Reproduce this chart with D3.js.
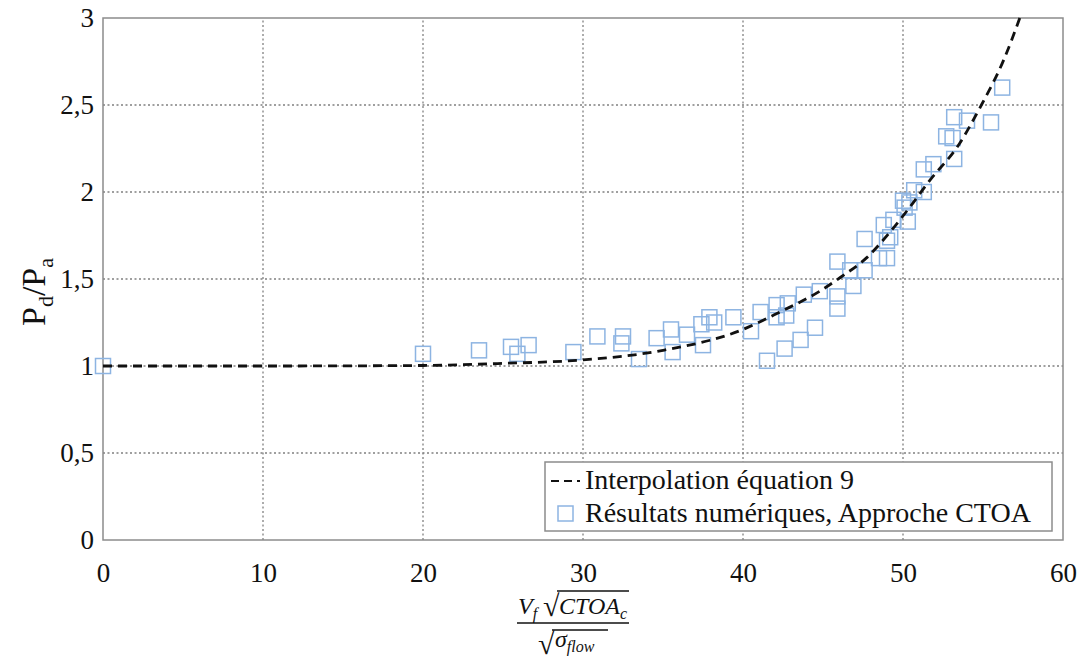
<!DOCTYPE html>
<html><head><meta charset="utf-8">
<script src="https://cdn.jsdelivr.net/npm/d3@7"></script>
<style>body{margin:0;background:#fff}svg{display:block}</style>
</head><body>
<svg id="c" width="1082" height="664"></svg>
<script>
const xTicks = [0,10,20,30,40,50,60];
const yTicks = [0,0.5,1,1.5,2,2.5,3];
const yTickLabels = ["0","0,5","1","1,5","2","2,5","3"];
const xTickLabels = ["0","10","20","30","40","50","60"];

// Résultats numériques, Approche CTOA
const pointsX = [0,20.0,23.5,25.5,25.9,26.6,29.4,30.9,32.5,32.4,33.5,34.6,35.5,35.6,36.5,37.4,37.5,37.9,38.2,39.4,40.5,41.1,41.5,42.1,42.1,42.7,42.8,42.6,43.6,43.8,44.5,44.8,45.9,45.9,45.9,46.7,46.9,47.6,47.6,48.5,49.0,49.0,48.8,49.2,49.4,50.3,50.0,50.4,50.1,51.3,50.7,51.3,51.9,53.2,52.7,53.1,53.2,54.0,55.5,56.2];
const pointsY = [1.0,1.07,1.09,1.11,1.07,1.12,1.08,1.17,1.17,1.13,1.04,1.16,1.21,1.08,1.18,1.24,1.12,1.28,1.25,1.28,1.20,1.31,1.03,1.35,1.28,1.29,1.36,1.10,1.15,1.41,1.22,1.43,1.40,1.33,1.60,1.55,1.46,1.55,1.73,1.62,1.72,1.62,1.81,1.74,1.84,1.83,1.95,1.94,1.91,2.00,2.01,2.13,2.16,2.19,2.32,2.31,2.43,2.41,2.40,2.60];

// Interpolation équation 9
const curveX = [0,10,20,25,30,35,40,42.3,44.8,46.1,47.7,49.1,50.4,51.7,53.4,54.9,56.3,57.3];
const curveY = [1,1,1.003,1.015,1.035,1.09,1.21,1.31,1.43,1.51,1.62,1.76,1.91,2.07,2.26,2.5,2.76,3.0];

const legendLabels = ["Interpolation équation 9","Résultats numériques, Approche CTOA"];

const svg = d3.select("#c");
const m = {l:103, r:19, t:18, b:124};
const W = 1082, H = 664;
const x = d3.scaleLinear().domain([0,60]).range([m.l, W-m.r]);
const y = d3.scaleLinear().domain([0,3]).range([H-m.b, m.t]);
const serif = "'Liberation Serif','Times New Roman',Times,serif";
const gridColor = "#808080";

// gridlines
svg.append("g").selectAll("line.gx").data(xTicks.slice(1,-1)).join("line")
  .attr("x1",d=>x(d)).attr("x2",d=>x(d)).attr("y1",y(0)).attr("y2",y(3))
  .attr("stroke",gridColor).attr("stroke-width",1.3).attr("stroke-dasharray","2,2.5");
svg.append("g").selectAll("line.gy").data(yTicks.slice(1,-1)).join("line")
  .attr("y1",d=>y(d)).attr("y2",d=>y(d)).attr("x1",x(0)).attr("x2",x(60))
  .attr("stroke",gridColor).attr("stroke-width",1.3).attr("stroke-dasharray","2,2.5");

// border
svg.append("rect").attr("x",x(0)).attr("y",y(3)).attr("width",x(60)-x(0)).attr("height",y(0)-y(3))
  .attr("fill","none").attr("stroke","#8c8c8c").attr("stroke-width",1.5);

// axes labels via d3 axes
const xAxis = d3.axisBottom(x).tickValues(xTicks).tickFormat((d,i)=>xTickLabels[i]).tickSize(0).tickPadding(23);
const gx = svg.append("g").attr("transform",`translate(0,${y(0)})`).call(xAxis)
  .attr("font-family",serif).attr("font-size",27);
gx.select(".domain").remove();
gx.selectAll("text").attr("font-family",serif).attr("font-size",27).attr("fill","#111");

const yAxis = d3.axisLeft(y).tickValues(yTicks).tickFormat((d,i)=>yTickLabels[i]).tickSize(0).tickPadding(9);
const gy = svg.append("g").attr("transform",`translate(${x(0)},0)`).call(yAxis)
  .attr("font-family",serif).attr("font-size",27);
gy.select(".domain").remove();
gy.selectAll("text").attr("font-family",serif).attr("font-size",27).attr("fill","#111");

// points
const S = 15;
const blue = "#8db4e2";
svg.append("g").selectAll("rect").data(pointsX.map((v,i)=>[v,pointsY[i]])).join("rect")
  .attr("x",d=>x(d[0])-S/2).attr("y",d=>y(d[1])-S/2).attr("width",S).attr("height",S)
  .attr("fill","none").attr("stroke",blue).attr("stroke-width",1.5);

// curve
const line = d3.line().x(d=>x(d[0])).y(d=>y(d[1])).curve(d3.curveMonotoneX);
svg.append("path").datum(curveX.map((v,i)=>[v,curveY[i]])).attr("d",line)
  .attr("fill","none").attr("stroke","#111").attr("stroke-width",2.8).attr("stroke-dasharray","9,6");

// legend
const lg = svg.append("g");
lg.append("rect").attr("x",545).attr("y",462).attr("width",507).attr("height",69)
  .attr("fill","#fff").attr("stroke","#8c8c8c").attr("stroke-width",1.5);
lg.append("line").attr("x1",551).attr("x2",580).attr("y1",481).attr("y2",481)
  .attr("stroke","#111").attr("stroke-width",2.2).attr("stroke-dasharray","8,5");
lg.append("rect").attr("x",558).attr("y",506).attr("width",15).attr("height",15)
  .attr("fill","none").attr("stroke",blue).attr("stroke-width",1.5);
lg.selectAll("text").data(legendLabels).join("text")
  .attr("x",585).attr("y",(d,i)=>489+i*33).text(d=>d)
  .attr("font-family",serif).attr("font-size",28).attr("fill","#111");

// y title
const yt = svg.append("text").attr("transform","translate(45,292) rotate(-90)")
  .attr("text-anchor","middle").attr("font-family",serif).attr("font-size",34).attr("fill","#111");
yt.append("tspan").text("P");
yt.append("tspan").text("d").attr("font-size",22).attr("dy",8);
yt.append("tspan").text("/P").attr("dy",-8);
yt.append("tspan").text("a").attr("font-size",22).attr("dy",8);

// x title (fraction)
const xt = svg.append("g").attr("font-family",serif).attr("fill","#111").attr("font-style","italic");
const num = xt.append("text").attr("x",518).attr("y",614).attr("font-size",24);
num.append("tspan").text("V");
num.append("tspan").text("f").attr("font-size",16).attr("dy",5);
xt.append("text").attr("x",543).attr("y",616).attr("font-size",30).attr("font-style","normal").text("√");
xt.append("line").attr("x1",557).attr("x2",629).attr("y1",591).attr("y2",591).attr("stroke","#111").attr("stroke-width",1.3);
const num2 = xt.append("text").attr("x",559).attr("y",614).attr("font-size",24);
num2.append("tspan").text("CTOA");
num2.append("tspan").text("c").attr("font-size",16).attr("dy",5);
xt.append("line").attr("x1",517).attr("x2",629).attr("y1",623).attr("y2",623).attr("stroke","#111").attr("stroke-width",1.5);
xt.append("text").attr("x",538).attr("y",654).attr("font-size",30).attr("font-style","normal").text("√");
xt.append("line").attr("x1",552).attr("x2",608).attr("y1",630).attr("y2",630).attr("stroke","#111").attr("stroke-width",1.3);
const den = xt.append("text").attr("x",555).attr("y",647).attr("font-size",24);
den.append("tspan").text("σ");
den.append("tspan").text("flow").attr("font-size",16).attr("dy",5);
</script>
</body></html>
